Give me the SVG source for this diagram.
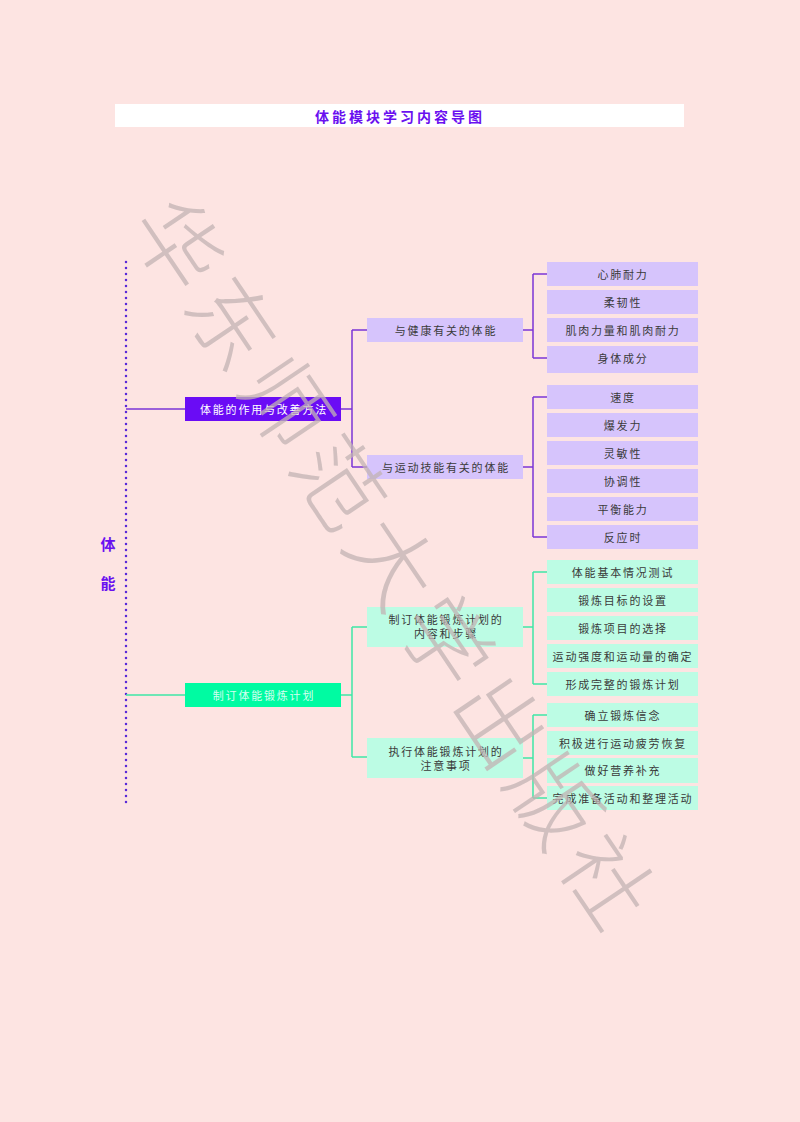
<svg xmlns="http://www.w3.org/2000/svg" width="800" height="1122" viewBox="0 0 800 1122">
<style>
text{font-family:"Noto Sans CJK SC","Noto Sans",sans-serif}
.t{font-size:11px;letter-spacing:1.8px;fill:#3a3a3a;text-anchor:middle;dominant-baseline:central}
.w{font-size:11px;letter-spacing:1.8px;fill:#ffffff;text-anchor:middle;dominant-baseline:central}
.lv{fill:#d6c4fc}
.mt{fill:#bcfce4}
.pl{stroke:#7b35d6;stroke-width:1.5;fill:none}
.gl{stroke:#3fe6a6;stroke-width:1.5;fill:none}
</style>
<rect width="800" height="1122" fill="#fde4e2"/>
<g id="title">
<rect x="115" y="104" width="569" height="23" fill="#ffffff"/>
<text x="400" y="115.5" font-size="14" font-weight="bold" fill="#6a10f0" text-anchor="middle" dominant-baseline="central" letter-spacing="3">体能模块学习内容导图</text>
</g>
<g id="root">
<line x1="126" y1="262" x2="126" y2="808" stroke="#5a2ad8" stroke-width="2.5" stroke-linecap="round" stroke-dasharray="0 6"/>
<text x="108" y="543" font-size="15" font-weight="bold" fill="#6a10f0" text-anchor="middle" dominant-baseline="central">体</text>
<text x="108" y="582" font-size="15" font-weight="bold" fill="#6a10f0" text-anchor="middle" dominant-baseline="central">能</text>
</g>
<g id="connectors">
<path class="pl" d="M126 409H185M341 409H352M352 330V467M352 330H367M352 467H367"/>
<path class="pl" d="M523 330H533M533 274V358M533 274H547M533 358H547"/>
<path class="pl" d="M523 467H533M533 397V537M533 397H547M533 537H547"/>
<path class="gl" d="M126 695H185M341 695H352M352 627V757M352 627H367M352 757H367"/>
<path class="gl" d="M523 627H533M533 572V684M533 572H547M533 684H547"/>
<path class="gl" d="M523 758H533M533 715V798M533 715H547M533 798H547"/>
</g>
<g id="n-main1"><rect x="185" y="397" width="156" height="24" fill="#6a0cf5"/><text class="w" x="264" y="409">体能的作用与改善方法</text></g>
<g id="n-health"><rect class="lv" x="367" y="318" width="156" height="24"/><text class="t" x="446" y="330">与健康有关的体能</text></g>
<g id="n-skill"><rect class="lv" x="367" y="455" width="156" height="24"/><text class="t" x="446" y="467">与运动技能有关的体能</text></g>
<g id="l1"><rect class="lv" x="547" y="262" width="151" height="24"/><text class="t" x="623" y="274">心肺耐力</text></g>
<g id="l2"><rect class="lv" x="547" y="290" width="151" height="24"/><text class="t" x="623" y="302">柔韧性</text></g>
<g id="l3"><rect class="lv" x="547" y="318" width="151" height="24"/><text class="t" x="623" y="330">肌肉力量和肌肉耐力</text></g>
<g id="l4"><rect class="lv" x="547" y="346" width="151" height="27"/><text class="t" x="623" y="358">身体成分</text></g>
<g id="l5"><rect class="lv" x="547" y="385" width="151" height="24"/><text class="t" x="623" y="397">速度</text></g>
<g id="l6"><rect class="lv" x="547" y="413" width="151" height="24"/><text class="t" x="623" y="425">爆发力</text></g>
<g id="l7"><rect class="lv" x="547" y="441" width="151" height="24"/><text class="t" x="623" y="453">灵敏性</text></g>
<g id="l8"><rect class="lv" x="547" y="469" width="151" height="24"/><text class="t" x="623" y="481">协调性</text></g>
<g id="l9"><rect class="lv" x="547" y="497" width="151" height="24"/><text class="t" x="623" y="509">平衡能力</text></g>
<g id="l10"><rect class="lv" x="547" y="525" width="151" height="24"/><text class="t" x="623" y="537">反应时</text></g>
<g id="n-main2"><rect x="185" y="683" width="156" height="24" fill="#00fba2"/><text class="w" x="264" y="695" style="fill:#d4fff0">制订体能锻炼计划</text></g>
<g id="n-plan"><rect class="mt" x="367" y="607" width="156" height="40"/><text class="t" x="446" y="619">制订体能锻炼计划的</text><text class="t" x="446" y="633">内容和步骤</text></g>
<g id="n-note"><rect class="mt" x="367" y="738" width="156" height="40"/><text class="t" x="446" y="751">执行体能锻炼计划的</text><text class="t" x="446" y="765">注意事项</text></g>
<g id="g1"><rect class="mt" x="547" y="560" width="151" height="24"/><text class="t" x="623" y="572">体能基本情况测试</text></g>
<g id="g2"><rect class="mt" x="547" y="588" width="151" height="24"/><text class="t" x="623" y="600">锻炼目标的设置</text></g>
<g id="g3"><rect class="mt" x="547" y="616" width="151" height="24"/><text class="t" x="623" y="628">锻炼项目的选择</text></g>
<g id="g4"><rect class="mt" x="547" y="644" width="151" height="24"/><text class="t" x="623" y="656">运动强度和运动量的确定</text></g>
<g id="g5"><rect class="mt" x="547" y="672" width="151" height="24"/><text class="t" x="623" y="684">形成完整的锻炼计划</text></g>
<g id="g6"><rect class="mt" x="547" y="703" width="151" height="24"/><text class="t" x="623" y="715">确立锻炼信念</text></g>
<g id="g7"><rect class="mt" x="547" y="731" width="151" height="24"/><text class="t" x="623" y="743">积极进行运动疲劳恢复</text></g>
<g id="g8"><rect class="mt" x="547" y="758" width="151" height="25"/><text class="t" x="623" y="770">做好营养补充</text></g>
<g id="g9"><rect class="mt" x="547" y="786" width="151" height="24"/><text class="t" x="623" y="798">完成准备活动和整理活动</text></g>
<g id="watermark">
<text transform="translate(400 562) rotate(56)" font-size="88" font-weight="300" letter-spacing="8" fill="#c2b3b3" fill-opacity="0.75" text-anchor="middle" dominant-baseline="central">华东师范大学出版社</text>
</g>
</svg>
